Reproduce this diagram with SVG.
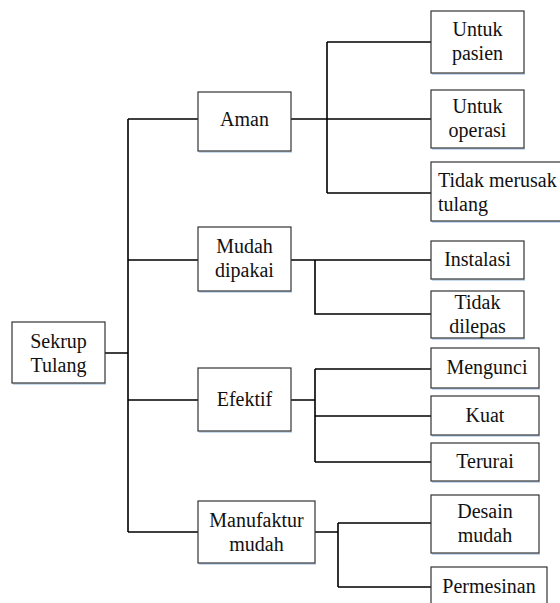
<svg xmlns="http://www.w3.org/2000/svg" width="560" height="603" viewBox="0 0 560 603">
<style>
.box{fill:#fff;stroke:#333;stroke-width:1.2}
.sh{fill:#c6d9f0}
text{fill:#111;text-anchor:middle;font-family:"Liberation Serif","Times New Roman",serif;font-size:20px}
.l{text-anchor:start}
#connectors path{fill:none;stroke:#000;stroke-width:1.6}
</style>
<rect width="560" height="603" fill="#fff"/>
<g id="connectors">
<path d="M105,353H128M128,119V532M128,119H198M128,260H198M128,400H198M128,532H198"/>
<path d="M291,119H431M327,42V193M327,42H431M327,193H431"/>
<path d="M291,260H431M315,260V314H431"/>
<path d="M291,400H315M315,369V462M315,369H431M315,416H431M315,462H431"/>
<path d="M315,532H338M338,523V587M338,523H431M338,587H431"/>
</g>
<g id="sekrup"><rect class="sh" x="13" y="383" width="93" height="2"/><rect class="box" x="12" y="322" width="93" height="61"/><text x="58.5" y="348">Sekrup</text><text x="58.5" y="372">Tulang</text></g>
<g id="aman"><rect class="sh" x="199" y="151" width="93" height="2"/><rect class="box" x="198" y="92" width="93" height="59"/><text x="244.5" y="126">Aman</text></g>
<g id="mudah"><rect class="sh" x="199" y="291" width="93" height="2"/><rect class="box" x="198" y="227" width="93" height="64"/><text x="244.5" y="253">Mudah</text><text x="244.5" y="277">dipakai</text></g>
<g id="efektif"><rect class="sh" x="199" y="431" width="93" height="2"/><rect class="box" x="198" y="368" width="93" height="63"/><text x="244.5" y="406">Efektif</text></g>
<g id="manufaktur"><rect class="sh" x="199" y="563" width="117" height="2"/><rect class="box" x="198" y="501" width="117" height="62"/><text x="256.5" y="527">Manufaktur</text><text x="256.5" y="551">mudah</text></g>
<g id="pasien"><rect class="sh" x="432" y="73" width="93" height="2"/><rect class="box" x="431" y="11" width="93" height="62"/><text x="477.5" y="36">Untuk</text><text x="477.5" y="60">pasien</text></g>
<g id="operasi"><rect class="sh" x="432" y="148" width="93" height="2"/><rect class="box" x="431" y="90" width="93" height="58"/><text x="477.5" y="113">Untuk</text><text x="477.5" y="137">operasi</text></g>
<g id="merusak"><rect class="sh" x="432" y="221" width="140" height="2"/><rect class="box" x="431" y="162" width="140" height="59"/><text class="l" x="438" y="187">Tidak merusak</text><text class="l" x="438" y="211">tulang</text></g>
<g id="instalasi"><rect class="sh" x="432" y="279" width="93" height="2"/><rect class="box" x="431" y="241" width="93" height="38"/><text x="477.5" y="266">Instalasi</text></g>
<g id="dilepas"><rect class="sh" x="432" y="338" width="93" height="2"/><rect class="box" x="431" y="291" width="93" height="47"/><text x="477.5" y="309">Tidak</text><text x="477.5" y="333">dilepas</text></g>
<g id="mengunci"><rect class="sh" x="432" y="388" width="108" height="2"/><rect class="box" x="431" y="348" width="108" height="40"/><text x="487" y="374">Mengunci</text></g>
<g id="kuat"><rect class="sh" x="432" y="435" width="108" height="2"/><rect class="box" x="431" y="396" width="108" height="39"/><text x="485" y="422">Kuat</text></g>
<g id="terurai"><rect class="sh" x="432" y="481" width="108" height="2"/><rect class="box" x="431" y="443" width="108" height="38"/><text x="485" y="468">Terurai</text></g>
<g id="desain"><rect class="sh" x="432" y="553" width="108" height="2"/><rect class="box" x="431" y="495" width="108" height="58"/><text x="485" y="518">Desain</text><text x="485" y="542">mudah</text></g>
<g id="permesinan"><rect class="box" x="431" y="567" width="116" height="50"/><text x="489" y="593">Permesinan</text></g>
</svg>
